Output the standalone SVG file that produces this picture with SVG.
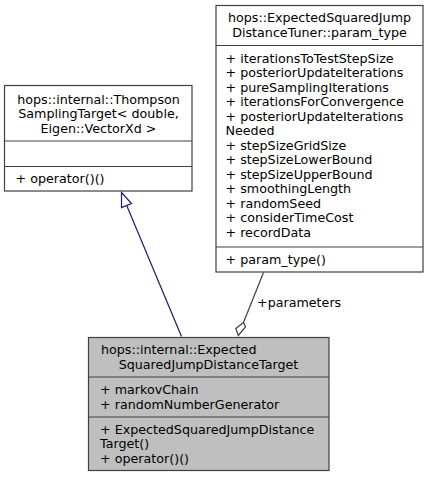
<svg xmlns="http://www.w3.org/2000/svg" width="429" height="477" viewBox="0 0 429 477">
<style>
text{font-family:"DejaVu Sans",sans-serif;font-size:12.7px;fill:#000}
.box{fill:#fff;stroke:#404040;stroke-width:1.2}
.cur{fill:#bfbfbf;stroke:#404040;stroke-width:1.2}
.sep{stroke:#404040;stroke-width:1.2;fill:none}
.c{text-anchor:middle}
</style>
<rect width="429" height="477" fill="#fff"/>
<g id="connectors">
<path d="M181.5,336.5 L126.5,205" stroke="#191970" stroke-width="1.2" fill="none"/>
<polygon points="121.5,192.5 131.5,203.5 121.5,207.5" fill="#fff" stroke="#191970" stroke-width="1.2"/>
<path d="M263.5,272.5 L243.5,322.5" stroke="#404040" stroke-width="1.2" fill="none"/>
<polygon points="238.3,335.5 235.8,328.5 243.5,322.5 245.5,327" fill="#fff" stroke="#404040" stroke-width="1.2"/>
<text x="257" y="306.5">+parameters</text>
</g>
<g id="node-thompson">
<rect class="box" x="4.5" y="85.5" width="187.5" height="105.5"/>
<path class="sep" d="M4.5,141 H192 M4.5,166.5 H192"/>
<text class="c" x="98.5" y="103.5">hops::internal::Thompson</text>
<text class="c" x="98.5" y="118">SamplingTarget&lt; double,</text>
<text class="c" x="98.5" y="132.5">Eigen::VectorXd &gt;</text>
<text x="15.5" y="183">+ operator()()</text>
</g>
<g id="node-param-type">
<rect class="box" x="216" y="5.5" width="207" height="266.5"/>
<path class="sep" d="M216,45.5 H423 M216,247 H423"/>
<text class="c" x="319.5" y="22">hops::ExpectedSquaredJump</text>
<text class="c" x="319.5" y="36.5">DistanceTuner::param_type</text>
<text x="225.5" y="62.8">+ iterationsToTestStepSize</text>
<text x="225.5" y="77.3">+ posteriorUpdateIterations</text>
<text x="225.5" y="91.8">+ pureSamplingIterations</text>
<text x="225.5" y="106.3">+ iterationsForConvergence</text>
<text x="225.5" y="120.8">+ posteriorUpdateIterations</text>
<text x="225.5" y="135.3">Needed</text>
<text x="225.5" y="149.8">+ stepSizeGridSize</text>
<text x="225.5" y="164.3">+ stepSizeLowerBound</text>
<text x="225.5" y="178.8">+ stepSizeUpperBound</text>
<text x="225.5" y="193.3">+ smoothingLength</text>
<text x="225.5" y="207.8">+ randomSeed</text>
<text x="225.5" y="222.3">+ considerTimeCost</text>
<text x="225.5" y="236.8">+ recordData</text>
<text x="225.5" y="263.8">+ param_type()</text>
</g>
<g id="node-target">
<rect class="cur" x="88.5" y="337.5" width="240.5" height="133"/>
<path class="sep" d="M88.5,377 H329 M88.5,417 H329"/>
<text x="101" y="354">hops::internal::Expected</text>
<text class="c" x="208.5" y="368.5">SquaredJumpDistanceTarget</text>
<text x="100" y="394">+ markovChain</text>
<text x="100" y="408.5">+ randomNumberGenerator</text>
<text x="100" y="433.5">+ ExpectedSquaredJumpDistance</text>
<text x="100" y="448">Target()</text>
<text x="100" y="462.5">+ operator()()</text>
</g>
</svg>
